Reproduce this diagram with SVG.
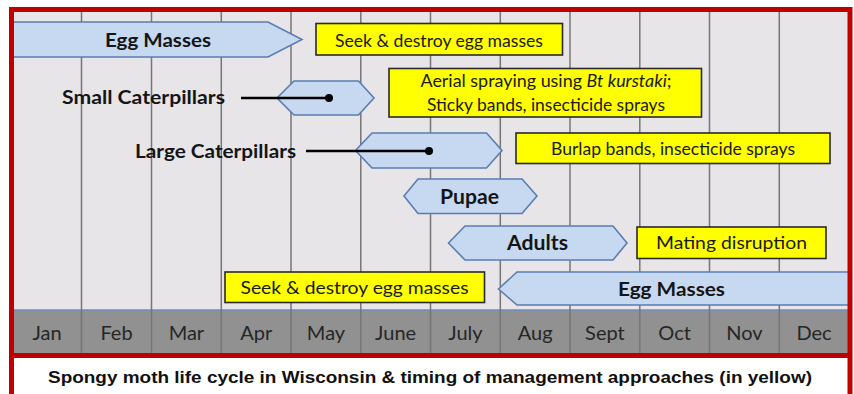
<svg xmlns="http://www.w3.org/2000/svg" width="854" height="394" viewBox="0 0 854 394">
<style>
.stage{fill:#c6d9f0;stroke:#5b7cb3;stroke-width:1.6}
.mgmt{fill:#ffff00;stroke:#2a2a2a;stroke-width:1.6}
.grid{stroke:#767676;stroke-width:1.5}
.lbl{font-family:Lato,"Open Sans",sans-serif;font-weight:bold;fill:#151515;text-anchor:middle}
.mtx{font-family:Lato,"Open Sans",sans-serif;fill:#1a1a1a;text-anchor:middle}
.mon{font-family:Lato,"Open Sans",sans-serif;font-size:20px;fill:#262626;text-anchor:middle}
.conn{stroke:#000;stroke-width:2.5;fill:none}
</style>
<rect x="0" y="0" width="854" height="394" fill="#ffffff"/>
<g id="chart-bg">
<rect x="12" y="11" width="838" height="300" fill="#e7e5e7"/>
<rect x="12" y="310" width="838" height="44" fill="#919191"/>
<line x1="12" y1="310" x2="850" y2="310" stroke="#6f8cc0" stroke-width="1.5"/>
<rect x="12" y="356" width="838" height="40" fill="#ffffff"/>
</g>
<g id="grid">
<line class="grid" x1="81.5" y1="11" x2="81.5" y2="354"/>
<line class="grid" x1="151.5" y1="11" x2="151.5" y2="354"/>
<line class="grid" x1="221.3" y1="11" x2="221.3" y2="354"/>
<line class="grid" x1="291" y1="11" x2="291" y2="354"/>
<line class="grid" x1="360.8" y1="11" x2="360.8" y2="354"/>
<line class="grid" x1="430.5" y1="11" x2="430.5" y2="354"/>
<line class="grid" x1="500.3" y1="11" x2="500.3" y2="354"/>
<line class="grid" x1="570" y1="11" x2="570" y2="354"/>
<line class="grid" x1="639.8" y1="11" x2="639.8" y2="354"/>
<line class="grid" x1="709.5" y1="11" x2="709.5" y2="354"/>
<line class="grid" x1="779.3" y1="11" x2="779.3" y2="354"/>
</g>
<g id="months">
<text class="mon" x="47" y="340">Jan</text>
<text class="mon" x="116.5" y="340">Feb</text>
<text class="mon" x="186.4" y="340">Mar</text>
<text class="mon" x="256.2" y="340">Apr</text>
<text class="mon" x="326" y="340">May</text>
<text class="mon" x="395.6" y="340">June</text>
<text class="mon" x="465.4" y="340">July</text>
<text class="mon" x="535.2" y="340">Aug</text>
<text class="mon" x="604.9" y="340">Sept</text>
<text class="mon" x="674.6" y="340">Oct</text>
<text class="mon" x="744.4" y="340">Nov</text>
<text class="mon" x="814" y="340">Dec</text>
</g>
<g id="egg-masses-1">
<polygon class="stage" points="13,22 268,22 302,39.5 268,57 13,57"/>
<text class="lbl" x="158" y="46.7" font-size="19" textLength="106" lengthAdjust="spacingAndGlyphs">Egg Masses</text>
</g>
<g id="seek-destroy-1">
<rect class="mgmt" x="316" y="23.5" width="246.5" height="31.5"/>
<text class="mtx" x="439" y="46.5" font-size="17" textLength="208" lengthAdjust="spacingAndGlyphs">Seek &amp; destroy egg masses</text>
</g>
<g id="small-caterpillars">
<text class="lbl" x="143.5" y="104" font-size="18.5" textLength="163" lengthAdjust="spacingAndGlyphs">Small Caterpillars</text>
<polygon class="stage" points="277,98 294,81 358.5,81 374,98 358.5,115 294,115"/>
</g>
<g id="aerial-spraying">
<rect class="mgmt" x="389" y="68.5" width="312.5" height="48.5"/>
<text class="mtx" x="546" y="87.3" font-size="17" textLength="251" lengthAdjust="spacingAndGlyphs">Aerial spraying using <tspan font-style="italic">Bt kurstaki</tspan>;</text>
<text class="mtx" x="546" y="110.7" font-size="17" textLength="238" lengthAdjust="spacingAndGlyphs">Sticky bands, insecticide sprays</text>
</g>
<g id="large-caterpillars">
<text class="lbl" x="215.5" y="158.3" font-size="18.5" textLength="161" lengthAdjust="spacingAndGlyphs">Large Caterpillars</text>
<polygon class="stage" points="355.5,150.5 372,133 486.5,133 502,150.5 486.5,168 372,168"/>
</g>
<g id="burlap-bands">
<rect class="mgmt" x="516" y="133" width="314" height="30.5"/>
<text class="mtx" x="673" y="155" font-size="17" textLength="244" lengthAdjust="spacingAndGlyphs">Burlap bands, insecticide sprays</text>
</g>
<g id="pupae">
<polygon class="stage" points="404,196 418,179 522,179 537,196 522,213.5 418,213.5"/>
<text class="lbl" x="469.5" y="204" font-size="20" textLength="59" lengthAdjust="spacingAndGlyphs">Pupae</text>
</g>
<g id="adults">
<polygon class="stage" points="448.5,243 465,226 613,226 627,243 613,260 465,260"/>
<text class="lbl" x="537.5" y="250" font-size="20" textLength="61" lengthAdjust="spacingAndGlyphs">Adults</text>
</g>
<g id="mating-disruption">
<rect class="mgmt" x="637" y="227" width="189" height="31.5"/>
<text class="mtx" x="731.5" y="249.3" font-size="17.5" textLength="151" lengthAdjust="spacingAndGlyphs">Mating disruption</text>
</g>
<g id="seek-destroy-2">
<rect class="mgmt" x="225" y="272" width="259.5" height="30.5"/>
<text class="mtx" x="354.5" y="294" font-size="18" textLength="228" lengthAdjust="spacingAndGlyphs">Seek &amp; destroy egg masses</text>
</g>
<g id="egg-masses-2">
<polygon class="stage" points="498.5,289 517,272 849,272 849,305 517,305"/>
<text class="lbl" x="671.5" y="296" font-size="19" textLength="107" lengthAdjust="spacingAndGlyphs">Egg Masses</text>
</g>
<g id="connectors">
<line class="conn" x1="241" y1="98" x2="329" y2="98"/>
<circle cx="329" cy="98" r="4" fill="#000"/>
<line class="conn" x1="306" y1="151" x2="429" y2="151"/>
<circle cx="429" cy="151" r="4" fill="#000"/>
</g>
<g id="frame">
<rect x="11.5" y="9.5" width="838.5" height="387" fill="none" stroke="#c00000" stroke-width="5"/>
<line x1="11.5" y1="355.5" x2="850" y2="355.5" stroke="#c00000" stroke-width="5"/>
</g>
<g id="caption">
<text x="430" y="383.3" font-family="'Liberation Sans',Arial,sans-serif" font-weight="bold" font-size="16.5" fill="#111" text-anchor="middle" textLength="764" lengthAdjust="spacingAndGlyphs">Spongy moth life cycle in Wisconsin &amp; timing of management approaches (in yellow)</text>
</g>
</svg>
